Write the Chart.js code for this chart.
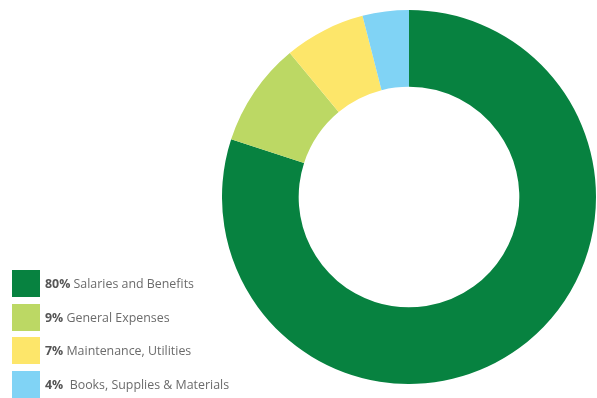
<!DOCTYPE html>
<html>
<head>
<meta charset="utf-8">
<script src="https://cdn.jsdelivr.net/npm/chart.js@4"></script>
<style>
  html, body { margin: 0; padding: 0; background: #fff; width: 597px; height: 398px; overflow: hidden; }
  #wrap { position: absolute; left: 222px; top: 10px; width: 374px; height: 374px; }
  #legend { position: absolute; left: 12px; top: 270px; font-family: "Open Sans", sans-serif; font-size: 12.4px; color: #6b6b6b; }
  .row { display: flex; align-items: center; height: 27px; margin-bottom: 6.7px; }
  .sw { width: 28px; height: 27px; margin-right: 5px; }
  .row b { color: #555; font-weight: 700; }
</style>
</head>
<body>
<div id="wrap"><canvas id="c"></canvas></div>
<div id="legend"></div>
<script>
const categories = ["Salaries and Benefits", "General Expenses", "Maintenance, Utilities", "\u00a0Books, Supplies & Materials"];
const percents = [80, 9, 7, 4];
const percentLabels = ["80%", "9%", "7%", "4%"];
const colors = ["#078240", "#bcd864", "#fde66a", "#80d3f5"];

new Chart(document.getElementById('c'), {
  type: 'doughnut',
  data: {
    labels: categories,
    datasets: [{ data: percents, backgroundColor: colors, borderWidth: 0 }]
  },
  options: {
    responsive: true,
    maintainAspectRatio: false,
    animation: false,
    cutout: '59%',
    layout: { padding: 0 },
    plugins: { legend: { display: false }, tooltip: { enabled: false } }
  }
});

const leg = document.getElementById('legend');
categories.forEach((c, i) => {
  const r = document.createElement('div');
  r.className = 'row';
  const sw = document.createElement('div');
  sw.className = 'sw';
  sw.style.background = colors[i];
  const t = document.createElement('span');
  const b = document.createElement('b');
  b.textContent = percentLabels[i];
  t.appendChild(b);
  t.appendChild(document.createTextNode(' ' + c));
  r.appendChild(sw);
  r.appendChild(t);
  leg.appendChild(r);
});
</script>
</body>
</html>
